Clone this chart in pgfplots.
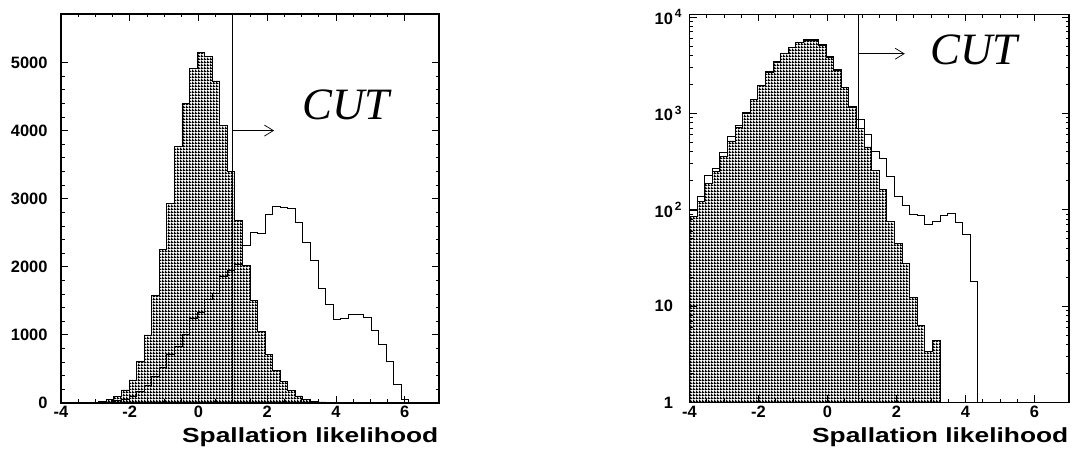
\documentclass[border=0pt]{standalone}
\usepackage{fontspec}
\setmainfont{Liberation Sans}
\newfontfamily\cutfont{Liberation Serif}
\usepackage{pgfplots}
\usepackage{pgfplotstable}
\pgfplotsset{compat=1.18}
\usetikzlibrary{patterns,arrows.meta}

% fine dark mesh used for the shaded histograms
\pgfdeclarepatternformonly{mesh}{\pgfqpoint{0bp}{0bp}}{\pgfqpoint{3bp}{3bp}}{\pgfqpoint{3bp}{3bp}}{%
  \pgfpathrectangle{\pgfqpoint{0bp}{0bp}}{\pgfqpoint{3bp}{1.5bp}}%
  \pgfpathrectangle{\pgfqpoint{0bp}{1.5bp}}{\pgfqpoint{1.5bp}{1.5bp}}%
  \pgfusepath{fill}}

% linear panel: bin left edge, shaded sample (f), open sample (o)
\pgfplotstableread{
x      f     o
-4.00  0     0
-3.78  0     0
-3.56  2     0
-3.34  4     2
-3.12  10    4
-2.90  20    8
-2.68  54    15
-2.46  93    34
-2.24  191   54
-2.02  338   93
-1.80  617   166
-1.58  999   264
-1.36  1586  386
-1.14  2257  515
-0.92  2932  710
-0.70  3764  827
-0.48  4391  1000
-0.26  4915  1243
-0.04  5150  1330
0.18   5091  1520
0.40   4728  1610
0.62   4078  1860
0.84   3397  1940
1.06   2687  2040
1.28   2026  2310
1.50   1503  2504
1.72   1047  2490
1.94   715   2775
2.16   475   2883
2.38   313   2874
2.60   181   2859
2.82   103   2648
3.04   54    2360
3.26   29    2095
3.48   15    1689
3.70   8     1452
3.92   4     1229
4.14   2     1244
4.36   0     1307
4.58   0     1307
4.80   0     1258
5.02   0     1062
5.24   0     866
5.46   0     607
5.68   0     279
5.90   0     54
6.12   0     10
6.34   0     0
7.00   0     0
}\linhist

% log panel, shaded sample (bins up to 3.26)
\pgfplotstableread{
x      f
-4.00  1
-4.00  85
-3.78  122
-3.56  187
-3.34  247
-3.12  358
-2.90  517
-2.68  721
-2.46  993
-2.24  1396
-2.02  1950
-1.80  2680
-1.58  3400
-1.36  4157
-1.14  4798
-0.92  5404
-0.70  5650
-0.48  5720
-0.26  5071
-0.04  3834
0.18   2790
0.40   1847
0.62   1162
0.84   694
1.06   448
1.28   253
1.50   163
1.72   75
1.94   45
2.16   28
2.38   12.4
2.60   6.3
2.82   3.36
3.04   4.45
3.26   1
}\logfill

% log panel, open sample (bins up to 4.36)
\pgfplotstableread{
x      o
-4.00  98
-3.78  136
-3.56  228
-3.34  267
-3.12  397
-2.90  578
-2.68  751
-2.46  1010
-2.24  1410
-2.02  1960
-1.80  2690
-1.58  3420
-1.36  4200
-1.14  4880
-0.92  5500
-0.70  5790
-0.48  5840
-0.26  5150
-0.04  3880
0.18   2820
0.40   1870
0.62   1180
0.84   860
1.06   601
1.28   404
1.50   340
1.72   219
1.94   138
2.16   111
2.38   90
2.60   87
2.82   70
3.04   76
3.26   87
3.48   91
3.70   74
3.92   56
4.14   18
4.36   1
}\logopen

\newcommand\sups[1]{\hspace{2bp}\raisebox{6.5bp}{\fontsize{12}{12}\selectfont\bfseries #1}}

\pgfplotsset{
  histframe/.style={
    scale only axis, anchor=south west,
    xmin=-4, xmax=7,
    xtick={-4,-2,0,2,4,6},
    xticklabels={-4,-2,0,2,4,6},
    minor x tick num=3,
    tick align=inside,
    major tick length=7bp, minor tick length=3.5bp,
    axis line style={line width=1.2bp},
    every tick/.style={black, line width=0.8bp},
    ticklabel style={font=\fontsize{16.5}{18}\selectfont\bfseries},
    scaled ticks=false,
  },
  shaded/.style={const plot, draw=black, line width=0.9bp, pattern=mesh, pattern color=black},
  outline/.style={const plot, draw=black, line width=0.9bp},
}

\begin{document}
\begin{tikzpicture}[x=1bp,y=1bp]
\path[use as bounding box] (0,0) rectangle (1072,453);

% linear scale
\begin{axis}[histframe, at={(61bp,50bp)}, width=378bp, height=389bp,
  ymin=0, ymax=5712,
  ytick={0,1000,2000,3000,4000,5000},
  yticklabels={0,1000,2000,3000,4000,5000},
  minor y tick num=4,
  yticklabel shift=10bp]
\addplot[shaded] table[x=x,y=f] {\linhist} \closedcycle;
\addplot[outline] table[x=x,y=o] {\linhist};
\draw[line width=0.8bp] (axis cs:1,0) -- (axis cs:1,5712);
\draw[-{Straight Barb[length=9bp,width=11bp]}, line width=0.7bp] (axis cs:1,4000) -- (axis cs:2.2,4000);
\end{axis}

% logarithmic scale
\begin{axis}[histframe, at={(689.5bp,50.5bp)}, width=379.5bp, height=388bp,
  ymode=log, ymin=1, ymax=10610,
  ytick={1,10,100,1000,10000},
  yticklabels={1,10,10\rlap{\sups{2}},10\rlap{\sups{3}},10\rlap{\sups{4}}},
  yticklabel shift=13bp]
\addplot[shaded] table[x=x,y=f] {\logfill};
\addplot[outline] table[x=x,y=o] {\logopen};
\draw[line width=0.8bp] (axis cs:0.9,1) -- (axis cs:0.9,10610);
\draw[-{Straight Barb[length=9bp,width=11bp]}, line width=0.7bp] (axis cs:0.9,4157) -- (axis cs:2.24,4157);
\end{axis}

\node[anchor=base west, inner sep=0, font=\cutfont\itshape\fontsize{45}{50}\selectfont] at (302,333.7) {CUT};
\node[anchor=base west, inner sep=0, font=\cutfont\itshape\fontsize{45}{50}\selectfont] at (930,388) {CUT};

\node[anchor=base east, inner sep=0] at (438.5,10.7)
  {\scalebox{1.29}[1]{\fontsize{20.5}{24}\selectfont\bfseries Spallation likelihood}};
\node[anchor=base east, inner sep=0] at (1068.5,10.7)
  {\scalebox{1.29}[1]{\fontsize{20.5}{24}\selectfont\bfseries Spallation likelihood}};
\end{tikzpicture}
\end{document}
